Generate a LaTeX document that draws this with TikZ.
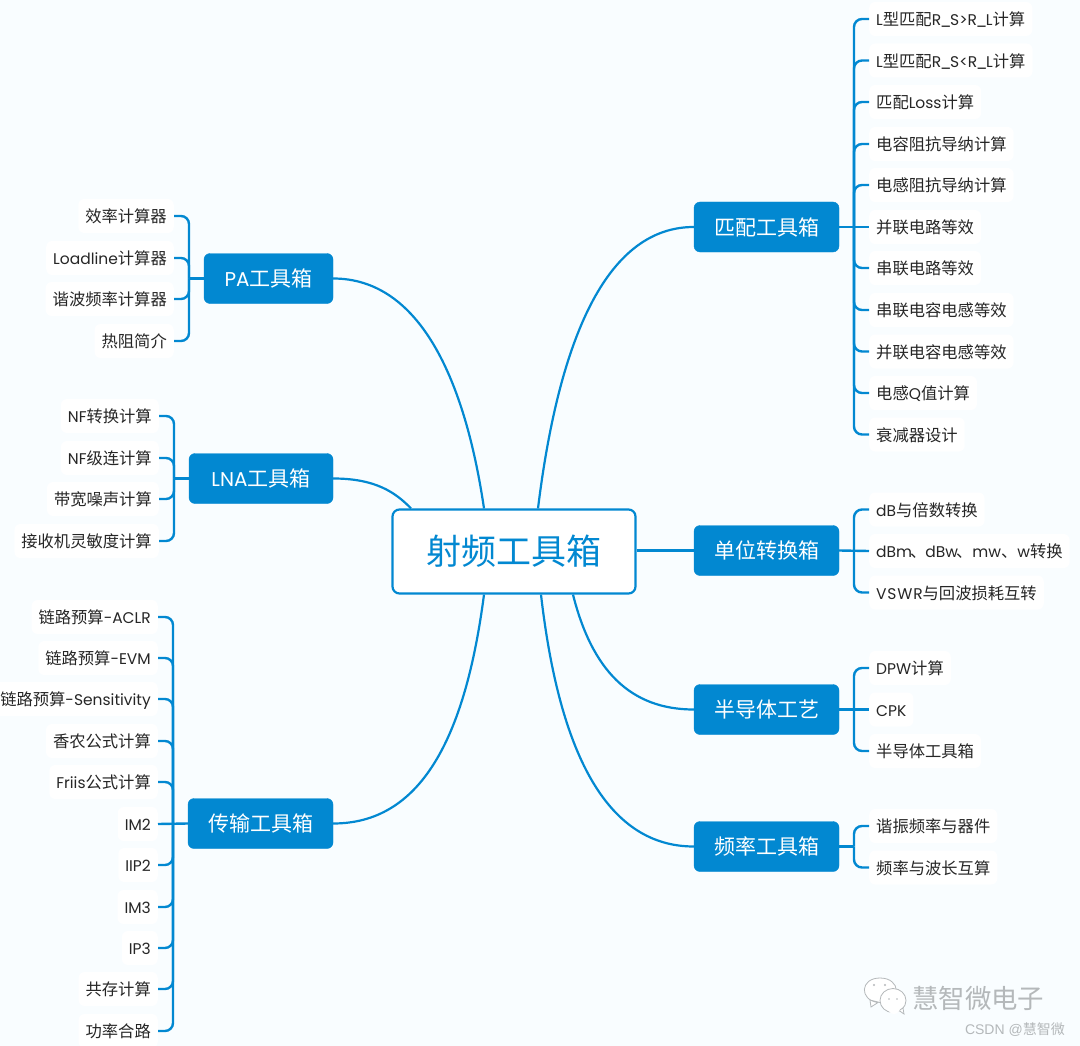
\documentclass[tikz,border=0pt]{standalone}
\usepackage{fontspec}
\setmainfont{Noto Sans CJK SC}
\newfontfamily\latf[Scale=0.95]{Poppins}
\newfontfamily\wmf{Liberation Sans}
\newcommand{\lt}[1]{{\latf #1}}
\newcommand{\usc}{\hspace{-1.2pt}\_\hspace{-1.2pt}}
\definecolor{bluemain}{HTML}{0288D1}
\definecolor{bgc}{HTML}{F9FDFF}
\definecolor{txt}{HTML}{262626}
\definecolor{wm}{HTML}{B4B8BA}
\tikzset{
 topic/.style={fill=bluemain,draw=bluemain,rounded corners=6pt,text=white,font=\fontsize{21}{24}\selectfont,minimum height=50pt,inner sep=0pt,align=center},
 rootbox/.style={fill=white,draw=bluemain,line width=2.2pt,rounded corners=7pt,text=bluemain,font=\fontsize{35}{40}\selectfont,minimum width=243pt,minimum height=84pt,inner sep=0pt},
 leafr/.style={fill=white,rounded corners=6pt,text=txt,font=\fontsize{16.3}{19}\selectfont,text height=14.9pt,text depth=1.4pt,minimum height=34pt,inner xsep=7pt,inner ysep=0pt,anchor=west},
 leafl/.style={leafr,anchor=east},
 bus/.style={draw=bluemain,line width=2.4pt,rounded corners=8pt},
 stem/.style={draw=bluemain,line width=2.4pt},
 curve/.style={draw=bluemain,line width=2.2pt},
}
\begin{document}
\begin{tikzpicture}[x=1pt,y=-1pt]
\useasboundingbox (0,0) rectangle (1080,1046);
\fill[bgc] (0,0) rectangle (1080,1046);
\node[rootbox] (root) at (514,551.5) {射频工具箱};
\node[topic,minimum width=145pt] (tm) at (766.5,227) {匹配工具箱};
\node[topic,minimum width=145pt] (tu) at (766.5,550.5) {单位转换箱};
\node[topic,minimum width=145pt] (ts) at (766.5,709.5) {半导体工艺};
\node[topic,minimum width=145pt] (tf) at (766.5,846.5) {频率工具箱};
\node[topic,minimum width=129pt] (tp) at (268.5,278.5) {\lt{PA}工具箱};
\node[topic,minimum width=144pt] (tl) at (261,478.5) {\lt{LNA}工具箱};
\node[topic,minimum width=145pt] (tt) at (260.5,823.5) {传输工具箱};
% curves
\draw[curve] ([xshift=24pt]root.north) .. controls (560,330) and (610,227) .. (tm.west);
\draw[curve] ([xshift=-30pt]root.north) .. controls (465,380) and (420,278.5) .. (tp.east);
\draw[curve] ([xshift=-103pt]root.north) .. controls (395,492) and (375,478.5) .. (tl.east);
\draw[curve] ([xshift=-30pt]root.south) .. controls (465,740) and (420,823.5) .. (tt.east);
\draw[curve] ([xshift=59pt]root.south) .. controls (592,670) and (630,709.5) .. (ts.west);
\draw[curve] ([xshift=27pt]root.south) .. controls (560,760) and (610,846.5) .. (tf.west);
\draw[curve] (root.east |- tu.west) -- (tu.west);
% leaves right
\node[leafr] (m1) at (869,19) {\lt{L}型匹配\lt{R\usc S>R\usc L}计算};
\node[leafr] (m2) at (869,60.5) {\lt{L}型匹配\lt{R\usc S<R\usc L}计算};
\node[leafr] (m3) at (869,102) {匹配\lt{Loss}计算};
\node[leafr] (m4) at (869,144) {电容阻抗导纳计算};
\node[leafr] (m5) at (869,185) {电感阻抗导纳计算};
\node[leafr] (m6) at (869,227) {并联电路等效};
\node[leafr] (m7) at (869,268) {串联电路等效};
\node[leafr] (m8) at (869,310) {串联电容电感等效};
\node[leafr] (m9) at (869,351.5) {并联电容电感等效};
\node[leafr] (m10) at (869,393) {电感\lt{Q}值计算};
\node[leafr] (m11) at (869,434.5) {衰减器设计};
\node[leafr] (u1) at (869,509.5) {\lt{dB}与倍数转换};
\node[leafr] (u2) at (869,551) {\lt{dBm}\hspace{-2pt}、\hspace{-1pt}\lt{dBw}\hspace{-2pt}、\lt{mw}、\lt{w}转换};
\node[leafr] (u3) at (869,592.5) {\lt{V\hspace{.8pt}S\hspace{.8pt}W\hspace{.8pt}R}与回波损耗互转};
\node[leafr] (s1) at (869,668) {\lt{DPW}计算};
\node[leafr] (s2) at (869,709.5) {\lt{CPK}};
\node[leafr] (s3) at (869,751) {半导体工具箱};
\node[leafr] (f1) at (869,826) {谐振频率与器件};
\node[leafr] (f2) at (869,867.5) {频率与波长互算};
% leaves left
\node[leafl] (p1) at (174,216) {效率计算器};
\node[leafl] (p2) at (174,258) {\lt{Loadline}计算器};
\node[leafl] (p3) at (174,299) {谐波频率计算器};
\node[leafl] (p4) at (174,341) {热阻简介};
\node[leafl] (l1) at (159,416) {\lt{NF}转换计算};
\node[leafl] (l2) at (159,458) {\lt{NF}级连计算};
\node[leafl] (l3) at (159,499) {带宽噪声计算};
\node[leafl] (l4) at (159,541) {接收机灵敏度计算};
\node[leafl] (t1) at (158,617) {链路预算\lt{-ACLR}};
\node[leafl] (t2) at (158,658) {链路预算\lt{-EVM}};
\node[leafl] (t3) at (158,699) {链路预算\lt{-Sensitivity}};
\node[leafl] (t4) at (158,741) {香农公式计算};
\node[leafl] (t5) at (158,782) {\lt{Friis}公式计算};
\node[leafl] (t6) at (158,824) {\lt{IM2}};
\node[leafl] (t7) at (158,865) {\lt{IIP2}};
\node[leafl] (t8) at (158,907) {\lt{IM3}};
\node[leafl] (t9) at (158,948) {\lt{IP3}};
\node[leafl] (t10) at (158,989) {共存计算};
\node[leafl] (t11) at (158,1031) {功率合路};
% bus anchor points
\coordinate (bm) at (854,227);
\coordinate (bu) at (854,550.5);
\coordinate (bs) at (854,709.5);
\coordinate (bf) at (854,846.5);
\coordinate (bp) at (189,278.5);
\coordinate (bl) at (174,478.5);
\coordinate (bt) at (173,823.5);
\foreach \n in {m1,m2,m3,m4,m5,m7,m8,m9,m10,m11} \draw[bus] (bm) |- (\n.west);
\draw[stem] (tm.east) -- (m6.west);
\foreach \n in {u1,u3} \draw[bus] (bu) |- (\n.west);
\draw[stem] (tu.east) -- (u2.west);
\foreach \n in {s1,s3} \draw[bus] (bs) |- (\n.west);
\draw[stem] (ts.east) -- (s2.west);
\foreach \n in {f1,f2} \draw[bus] (bf) |- (\n.west);
\draw[stem] (tf.east) -- (bf);
\foreach \n in {p1,p2,p3,p4} \draw[bus] (bp) |- (\n.east);
\draw[stem] (tp.west) -- (bp);
\foreach \n in {l1,l2,l3,l4} \draw[bus] (bl) |- (\n.east);
\draw[stem] (tl.west) -- (bl);
\foreach \n in {t1,t2,t3,t4,t5,t7,t8,t9,t10,t11} \draw[bus] (bt) |- (\n.east);
\draw[stem] (tt.west) -- (t6.east);
% watermark
\draw[wm,fill=white,line width=0.8pt] (870,1000) -- (871,1007) -- (878,1002.5) .. controls (859,1000) and (860,978) .. (880,978) .. controls (901,978) and (902,1002) .. (882,1003) -- cycle;
\draw[wm,fill=white,line width=0.8pt] (893,1000.5) ellipse [x radius=13,y radius=12];
\draw[wm,fill=white,line width=0.8pt] (899,1010.5) -- (904,1014) -- (903,1008) -- cycle;
\fill[white] (894,1008) circle (6);
\fill[wm] (874,985) circle (1.1) (885,985) circle (1.1) (889,999) circle (0.9) (897,999) circle (0.9);
\node[text=wm,font=\fontsize{26.4}{30}\selectfont,inner sep=0pt,anchor=west] (wm1) at (912,998) {慧智微电子};
\node[text=wm,font=\fontsize{14}{17}\selectfont,inner sep=0pt,anchor=east] (wm2) at (1065,1029.5) {{\wmf CSDN @}慧智微};
\end{tikzpicture}
\end{document}
